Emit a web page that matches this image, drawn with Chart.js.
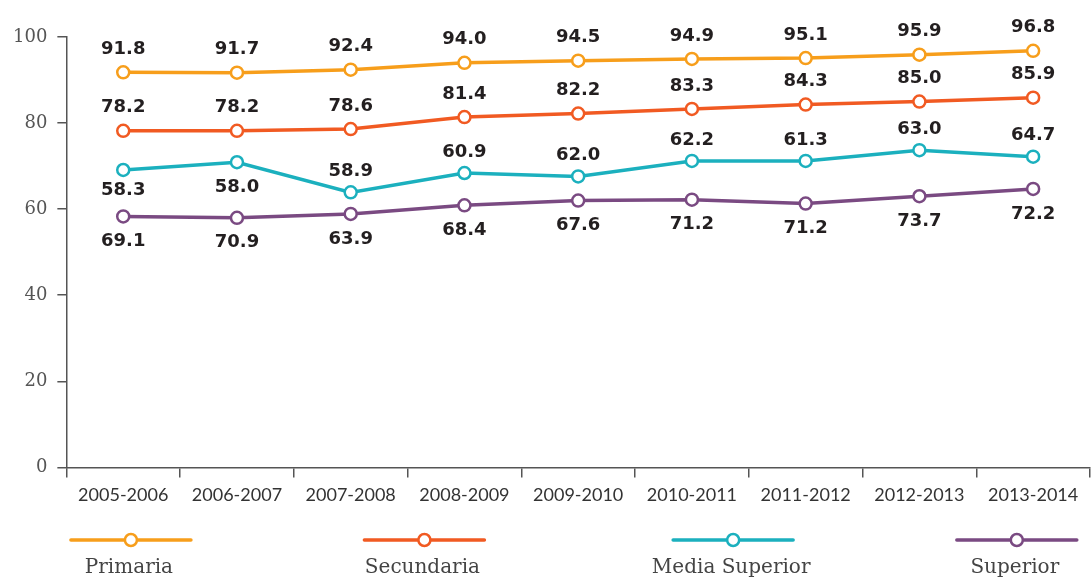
<!DOCTYPE html>
<html>
<head>
<meta charset="utf-8">
<script src="https://cdn.jsdelivr.net/npm/chart.js@4.4.0/dist/chart.umd.min.js"></script>
<style>
  html, body { margin: 0; padding: 0; background: #fff; }
  #wrap { width: 1091px; height: 579px; }
</style>
</head>
<body>
<div id="wrap"><canvas id="grafica" width="1091" height="579"></canvas></div>
<script>
// Datos
const ciclos = ['2005-2006', '2006-2007', '2007-2008', '2008-2009', '2009-2010',
                '2010-2011', '2011-2012', '2012-2013', '2013-2014'];
const primaria      = [91.8, 91.7, 92.4, 94.0, 94.5, 94.9, 95.1, 95.9, 96.8];
const secundaria    = [78.2, 78.2, 78.6, 81.4, 82.2, 83.3, 84.3, 85.0, 85.9];
const mediaSuperior = [69.1, 70.9, 63.9, 68.4, 67.6, 71.2, 71.2, 73.7, 72.2];
const superior      = [58.3, 58.0, 58.9, 60.9, 62.0, 62.2, 61.3, 63.0, 64.7];
const yMin = 0, yMax = 100, yPaso = 20;

const colores = {
    primaria: '#F79E1B',
    secundaria: '#F15A22',
    mediaSuperior: '#1BB0BE',
    superior: '#7A4A82'
};

const ejeColor = '#555555';

// Etiquetas de valor (las de Media Superior y Superior van acomodadas como en el original)
const etiquetas = {
    id: 'etiquetas',
    afterDatasetsDraw(chart) {
        const ctx = chart.ctx;
        const pts = chart.data.datasets.map((d, i) => chart.getDatasetMeta(i).data);
        ctx.save();
        ctx.font = 'bold 18px "DejaVu Sans"';
        ctx.fillStyle = '#231f20';
        ctx.textAlign = 'center';
        ctx.textBaseline = 'middle';
        chart.data.datasets.forEach((ds, di) => {
            pts[di].forEach((p, i) => {
                let y;
                if (di < 2) {
                    y = p.y - 23;
                } else if (di === 2) {
                    y = pts[3][i].y + 25;
                } else {
                    const teal = pts[2][i].y;
                    const hueco = teal - pts[1][i].y;
                    y = hueco > 45 ? teal - 21 : (teal + p.y) / 2 - 3;
                }
                ctx.fillText(ds.data[i].toFixed(1), p.x, y);
            });
        });
        ctx.restore();
    }
};

// Leyenda dibujada abajo
const leyenda = {
    id: 'leyenda',
    afterDraw(chart) {
        const ctx = chart.ctx;
        const ancho = 120;
        const centros = [0.12, 0.389, 0.672, 0.932];
        ctx.save();
        chart.data.datasets.forEach((ds, i) => {
            const cx = chart.width * centros[i];
            const y = 540;
            ctx.strokeStyle = ds.borderColor;
            ctx.lineWidth = 3.5;
            ctx.lineCap = 'round';
            ctx.beginPath();
            ctx.moveTo(cx - ancho / 2, y);
            ctx.lineTo(cx + ancho / 2, y);
            ctx.stroke();
            ctx.beginPath();
            ctx.arc(cx, y, 6, 0, Math.PI * 2);
            ctx.fillStyle = '#fff';
            ctx.fill();
            ctx.lineWidth = 2.5;
            ctx.stroke();
            ctx.font = '20px "DejaVu Serif"';
            ctx.fillStyle = '#444';
            ctx.textAlign = 'center';
            ctx.textBaseline = 'middle';
            ctx.fillText(ds.label, cx - 2, 568);
        });
        ctx.restore();
    }
};

function serie(label, data, color) {
    return {
        label: label,
        data: data,
        borderColor: color,
        backgroundColor: color,
        borderWidth: 3.5,
        pointRadius: 6,
        pointHoverRadius: 6,
        pointBorderWidth: 2.5,
        pointBackgroundColor: '#fff',
        pointBorderColor: color,
        tension: 0,
        clip: false
    };
}

new Chart(document.getElementById('grafica'), {
    type: 'line',
    data: {
        labels: ciclos,
        datasets: [
            serie('Primaria', primaria, colores.primaria),
            serie('Secundaria', secundaria, colores.secundaria),
            serie('Media Superior', mediaSuperior, colores.mediaSuperior),
            serie('Superior', superior, colores.superior)
        ]
    },
    options: {
        responsive: false,
        devicePixelRatio: 1,
        animation: false,
        layout: { autoPadding: false, padding: { top: 37, right: 1, bottom: 66, left: 3 } },
        plugins: {
            legend: { display: false },
            tooltip: { enabled: false }
        },
        scales: {
            x: {
                offset: true,
                grid: {
                    offset: true,
                    drawOnChartArea: false,
                    drawTicks: true,
                    tickLength: 10,
                    color: ejeColor,
                    lineWidth: 1.5
                },
                border: { color: ejeColor, width: 1.5 },
                ticks: {
                    color: '#333',
                    font: { family: 'Lato', size: 18 },
                    padding: 7,
                    maxRotation: 0,
                    autoSkip: false
                }
            },
            y: {
                min: yMin,
                max: yMax,
                ticks: {
                    stepSize: yPaso,
                    color: ejeColor,
                    font: { family: 'DejaVu Serif', size: 18 },
                    padding: 10
                },
                grid: {
                    drawOnChartArea: false,
                    tickLength: 9,
                    color: ejeColor,
                    lineWidth: 1.5
                },
                border: { color: ejeColor, width: 1.5 }
            }
        }
    },
    plugins: [etiquetas, leyenda]
});
</script>
</body>
</html>
